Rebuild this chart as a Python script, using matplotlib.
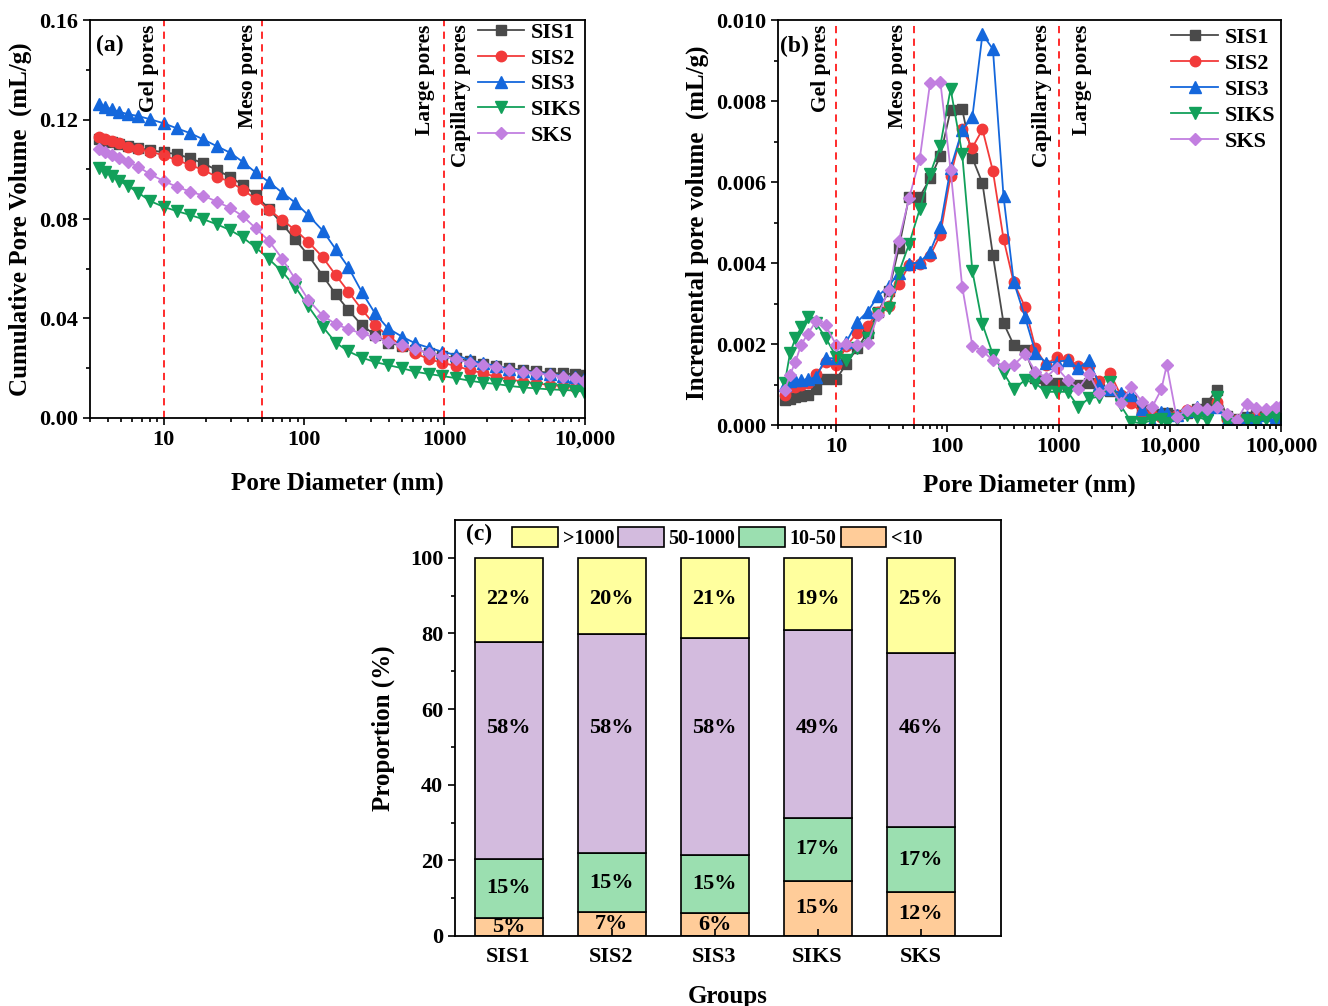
import numpy as np
import matplotlib
matplotlib.use('Agg')
import matplotlib.pyplot as plt
from matplotlib.ticker import FixedLocator, FixedFormatter, MultipleLocator, LogLocator, NullFormatter, FormatStrFormatter
from matplotlib.patches import Patch

plt.rcParams['font.family'] = ['Liberation Serif', 'DejaVu Serif']
plt.rcParams['font.weight'] = 'bold'
plt.rcParams['axes.labelweight'] = 'bold'

# ---------------- data ----------------
samples = ['SIS1', 'SIS2', 'SIS3', 'SIKS', 'SKS']

# (a) cumulative pore volume (mL/g)
diam_a = [3.45, 3.85, 4.3, 4.85, 5.55, 6.6, 8.05, 10.0, 12.4, 15.5, 19.2, 23.9, 29.7, 36.6, 45.3,
          56.5, 70, 86.5, 107, 136, 168, 207, 257, 320, 395, 499, 620, 771, 959, 1210, 1508, 1877,
          2333, 2902, 3611, 4494, 5597, 6966, 8515, 9870]
cum_SIS1 = [0.1120, 0.1115, 0.1110, 0.1100, 0.1093, 0.1085, 0.1077, 0.1068, 0.1061, 0.1044, 0.1024,
            0.0997, 0.0970, 0.0937, 0.0897, 0.0839, 0.0780, 0.0718, 0.0655, 0.0572, 0.0498, 0.0434,
            0.0374, 0.0334, 0.0303, 0.0290, 0.0275, 0.0262, 0.0251, 0.0240, 0.0228, 0.0218, 0.0208,
            0.0200, 0.0193, 0.0187, 0.0182, 0.0179, 0.0176, 0.0173]
cum_SIS2 = [0.1128, 0.1120, 0.1114, 0.1104, 0.1091, 0.1080, 0.1071, 0.1056, 0.1037, 0.1017, 0.0997,
            0.0970, 0.0950, 0.0918, 0.0881, 0.0837, 0.0796, 0.0756, 0.0709, 0.0646, 0.0575, 0.0508,
            0.0437, 0.0374, 0.0330, 0.0290, 0.0260, 0.0237, 0.0222, 0.0209, 0.0193, 0.0180, 0.0166,
            0.0156, 0.0146, 0.0139, 0.0133, 0.0128, 0.0125, 0.0123]
cum_SIS3 = [0.1262, 0.1251, 0.1241, 0.1231, 0.1222, 0.1214, 0.1201, 0.1185, 0.1165, 0.1145, 0.1120,
            0.1093, 0.1067, 0.1030, 0.0987, 0.0948, 0.0906, 0.0866, 0.0816, 0.0753, 0.0679, 0.0606,
            0.0508, 0.0421, 0.0361, 0.0327, 0.0300, 0.0283, 0.0267, 0.0253, 0.0233, 0.0220, 0.0210,
            0.0197, 0.0189, 0.0182, 0.0177, 0.0169, 0.0164, 0.0157]
cum_SIKS = [0.1004, 0.0990, 0.0973, 0.0953, 0.0934, 0.0906, 0.0872, 0.0849, 0.0832, 0.0816, 0.0799,
            0.0779, 0.0756, 0.0726, 0.0686, 0.0638, 0.0588, 0.0528, 0.0450, 0.0367, 0.0303, 0.0268,
            0.0243, 0.0225, 0.0213, 0.0200, 0.0186, 0.0177, 0.0169, 0.0160, 0.0150, 0.0142, 0.0137,
            0.0129, 0.0123, 0.0119, 0.0115, 0.0113, 0.0110, 0.0106]
cum_SKS = [0.1080, 0.1068, 0.1057, 0.1044, 0.1030, 0.1010, 0.0980, 0.0953, 0.0930, 0.0910, 0.0894,
           0.0870, 0.0845, 0.0812, 0.0763, 0.0711, 0.0640, 0.0559, 0.0476, 0.0411, 0.0378, 0.0357,
           0.0340, 0.0324, 0.0307, 0.0293, 0.0276, 0.0262, 0.0249, 0.0236, 0.0222, 0.0213, 0.0204,
           0.0193, 0.0186, 0.0180, 0.0173, 0.0166, 0.0160, 0.0150]

# (b) incremental pore volume (mL/g)
diam_b = [3.45, 3.85, 4.3, 4.85, 5.55, 6.6, 8.05, 10.0, 12.4, 15.5, 19.2, 23.9, 29.7, 36.6, 45.3,
          56.5, 70, 86.5, 107, 136, 168, 207, 257, 320, 395, 499, 620, 771, 959, 1210, 1508, 1877,
          2333, 2902, 3611, 4494, 5597, 6966, 8400, 9400, 11500, 14200, 17500, 21500, 26500, 32500,
          40000, 49000, 60000, 74000, 91000, 100000]
inc_SIS1 = [0.00062, 0.00065, 0.00068, 0.00071, 0.00075, 0.00088, 0.00113, 0.00113, 0.00151, 0.00190,
            0.00228, 0.00280, 0.00330, 0.00436, 0.00564, 0.00564, 0.00609, 0.00664, 0.00778, 0.00780,
            0.00659, 0.00597, 0.00419, 0.00252, 0.00198, 0.00185, 0.00115, 0.00110, 0.00104, 0.00099,
            0.00099, 0.00104, 0.00090, 0.00085, 0.00070, 0.00062, 0.00040, 0.00030, 0.00028, 0.00030,
            0.00025, 0.00030, 0.00040, 0.00055, 0.00086, 0.00022, 0.00015, 0.00020, 0.00025, 0.00030,
            0.00035, 0.00040]
inc_SIS2 = [0.00075, 0.00093, 0.00095, 0.00098, 0.00105, 0.00125, 0.00155, 0.00147, 0.00195, 0.00228,
            0.00245, 0.00280, 0.00295, 0.00348, 0.00395, 0.00398, 0.00418, 0.00470, 0.00615, 0.00730,
            0.00685, 0.00730, 0.00627, 0.00460, 0.00352, 0.00292, 0.00190, 0.00148, 0.00169, 0.00162,
            0.00146, 0.00145, 0.00109, 0.00129, 0.00074, 0.00055, 0.00030, 0.00025, 0.00020, 0.00022,
            0.00025, 0.00037, 0.00029, 0.00029, 0.00058, 0.00016, 0.00012, 0.00015, 0.00020, 0.00025,
            0.00030, 0.00035]
inc_SIS3 = [0.00100, 0.00109, 0.00111, 0.00111, 0.00113, 0.00118, 0.00165, 0.00165, 0.00206, 0.00255,
            0.00280, 0.00319, 0.00343, 0.00376, 0.00398, 0.00402, 0.00428, 0.00490, 0.00634, 0.00728,
            0.00761, 0.00965, 0.00928, 0.00565, 0.00354, 0.00267, 0.00179, 0.00154, 0.00156, 0.00160,
            0.00140, 0.00160, 0.00099, 0.00090, 0.00078, 0.00074, 0.00039, 0.00006, 0.00033, 0.00030,
            0.00025, 0.00035, 0.00045, 0.00040, 0.00045, 0.00010, 0.00005, 0.00020, 0.00015, 0.00025,
            0.00020, 0.00030]
inc_SIKS = [0.00103, 0.00177, 0.00214, 0.00241, 0.00266, 0.00251, 0.00216, 0.00169, 0.00160, 0.00189,
            0.00214, 0.00274, 0.00290, 0.00376, 0.00447, 0.00533, 0.00620, 0.00690, 0.00830, 0.00670,
            0.00380, 0.00249, 0.00174, 0.00129, 0.00088, 0.00111, 0.00103, 0.00082, 0.00082, 0.00082,
            0.00045, 0.00066, 0.00070, 0.00107, 0.00049, 0.00008, 0.00004, 0.00012, 0.00014, 0.00004,
            0.00016, 0.00025, 0.00021, 0.00012, 0.00070, 0.00008, 0.00006, 0.00012, 0.00008, 0.00016,
            0.00021, 0.00025]
inc_SKS = [0.00086, 0.00123, 0.00156, 0.00198, 0.00225, 0.00256, 0.00246, 0.00198, 0.00200, 0.00198,
           0.00202, 0.00272, 0.00333, 0.00455, 0.00560, 0.00657, 0.00845, 0.00848, 0.00630, 0.00342,
           0.00196, 0.00183, 0.00160, 0.00146, 0.00148, 0.00175, 0.00132, 0.00117, 0.00142, 0.00111,
           0.00090, 0.00126, 0.00078, 0.00095, 0.00055, 0.00093, 0.00058, 0.00045, 0.00088, 0.00148,
           0.00020, 0.00037, 0.00041, 0.00040, 0.00045, 0.00027, 0.00012, 0.00053, 0.00041, 0.00039,
           0.00045, 0.00048]

# (c) pore size proportion (%)
groups = ['SIS1', 'SIS2', 'SIS3', 'SIKS', 'SKS']
size_classes = ['<10', '10-50', '50-1000', '>1000']
prop_lt10 = [4.8, 6.3, 6.0, 14.6, 11.5]
prop_10_50 = [15.6, 15.6, 15.4, 16.6, 17.4]
prop_50_1000 = [57.4, 58.0, 57.5, 49.6, 46.0]
prop_gt1000 = [22.2, 20.1, 21.1, 19.2, 25.1]
lab_lt10 = ['5%', '7%', '6%', '15%', '12%']
lab_10_50 = ['15%', '15%', '15%', '17%', '17%']
lab_50_1000 = ['58%', '58%', '58%', '49%', '46%']
lab_gt1000 = ['22%', '20%', '21%', '19%', '25%']

# ---------------- style ----------------
line_colors = ['#4A4A4A', '#F23A3A', '#1467DC', '#12A05A', '#C27FE0']
marker_list = ['s', 'o', '^', 'v', 'D']
marker_sizes = [6.5, 7.5, 8, 8, 6.5]
class_colors = ['#FFCC99', '#9BDFB0', '#D3BBDE', '#FFFF9E']
red_dash = '#FF1A1A'
TICK_FS = 16
LABEL_FS = 18

fig = plt.figure(figsize=(13.28, 10.06), dpi=100)

def style_axis(ax):
    for s in ax.spines.values():
        s.set_linewidth(1.3)
    ax.tick_params(which='both', direction='out', width=1.2, top=False, right=False, labelsize=TICK_FS)
    ax.tick_params(which='major', length=5)
    ax.tick_params(which='minor', length=3)

ann_kw = dict(xycoords=('data', 'axes fraction'), textcoords='offset points', rotation=90,
              va='top', fontsize=15.5)

# ---------------- panel (a) ----------------
ax1 = fig.add_axes([0.0678, 0.5845, 0.3727, 0.3956])
cum_all = [cum_SIS1, cum_SIS2, cum_SIS3, cum_SIKS, cum_SKS]
for name, y, c, m, ms in zip(samples, cum_all, line_colors, marker_list, marker_sizes):
    ax1.plot(diam_a, y, color=c, marker=m, markersize=ms, lw=1.3, label=name)
ax1.set_xscale('log')
ax1.set_xlim(3.0, 10000)
ax1.set_ylim(0, 0.16)
ax1.xaxis.set_major_locator(FixedLocator([10, 100, 1000, 10000]))
ax1.xaxis.set_major_formatter(FixedFormatter(['10', '100', '1000', '10,000']))
ax1.xaxis.set_minor_locator(LogLocator(base=10, subs=np.arange(2, 10)))
ax1.xaxis.set_minor_formatter(NullFormatter())
ax1.yaxis.set_major_locator(MultipleLocator(0.04))
ax1.yaxis.set_minor_locator(MultipleLocator(0.02))
ax1.yaxis.set_major_formatter(FormatStrFormatter('%.2f'))
style_axis(ax1)
ax1.set_xlabel('Pore Diameter (nm)', fontsize=LABEL_FS, labelpad=16)
ax1.set_ylabel('Cumulative Pore Volume  (mL/g)', fontsize=LABEL_FS, labelpad=5)
for xv in [10, 50, 1000]:
    ax1.axvline(xv, color=red_dash, ls=(0, (4, 3)), lw=1.3)
ax1.annotate('Gel pores', xy=(10, 1), xytext=(-3, -3), ha='right', **ann_kw)
ax1.annotate('Meso pores', xy=(50, 1), xytext=(-3, -3), ha='right', **ann_kw)
ax1.annotate('Large pores', xy=(1000, 1), xytext=(-7, -3), ha='right', **ann_kw)
ax1.annotate('Capillary pores', xy=(1000, 1), xytext=(5, -3), ha='left', **ann_kw)
ax1.text(0.013, 0.962, '(a)', transform=ax1.transAxes, fontsize=17, va='top', ha='left')
ax1.legend(loc='upper right', frameon=False, fontsize=16, handlelength=2.1, handletextpad=0.3,
           labelspacing=0.23, borderaxespad=0.2, bbox_to_anchor=(1.02, 1.027))

# ---------------- panel (b) ----------------
ax2 = fig.add_axes([0.5858, 0.5775, 0.3788, 0.4026])
inc_all = [inc_SIS1, inc_SIS2, inc_SIS3, inc_SIKS, inc_SKS]
for name, y, c, m, ms in zip(samples, inc_all, line_colors, marker_list, marker_sizes):
    ax2.plot(diam_b, y, color=c, marker=m, markersize=ms, lw=1.3, label=name)
ax2.set_xscale('log')
ax2.set_xlim(3.0, 100000)
ax2.set_ylim(0, 0.010)
ax2.xaxis.set_major_locator(FixedLocator([10, 100, 1000, 10000, 100000]))
ax2.xaxis.set_major_formatter(FixedFormatter(['10', '100', '1000', '10,000', '100,000']))
ax2.xaxis.set_minor_locator(LogLocator(base=10, subs=np.arange(2, 10)))
ax2.xaxis.set_minor_formatter(NullFormatter())
ax2.yaxis.set_major_locator(MultipleLocator(0.002))
ax2.yaxis.set_minor_locator(MultipleLocator(0.001))
ax2.yaxis.set_major_formatter(FormatStrFormatter('%.3f'))
style_axis(ax2)
ax2.set_xlabel('Pore Diameter (nm)', fontsize=LABEL_FS, labelpad=12)
ax2.set_ylabel('Incremental pore volume  (mL/g)', fontsize=LABEL_FS, labelpad=5)
for xv in [10, 50, 1000]:
    ax2.axvline(xv, color=red_dash, ls=(0, (4, 3)), lw=1.3)
ax2.annotate('Gel pores', xy=(10, 1), xytext=(-4, -3), ha='right', **ann_kw)
ax2.annotate('Meso pores', xy=(50, 1), xytext=(-4, -3), ha='right', **ann_kw)
ax2.annotate('Capillary pores', xy=(1000, 1), xytext=(-5, -3), ha='right', **ann_kw)
ax2.annotate('Large pores', xy=(1000, 1), xytext=(10, -3), ha='left', **ann_kw)
ax2.text(0.005, 0.962, '(b)', transform=ax2.transAxes, fontsize=17, va='top', ha='left')
ax2.legend(loc='upper right', frameon=False, fontsize=16, handlelength=2.1, handletextpad=0.3,
           labelspacing=0.25, borderaxespad=0.2, bbox_to_anchor=(1.015, 1.015))

# ---------------- panel (c) ----------------
ax3 = fig.add_axes([0.3426, 0.0696, 0.4111, 0.4135])
xpos = np.arange(len(groups))
stack_vals = [prop_lt10, prop_10_50, prop_50_1000, prop_gt1000]
stack_labs = [lab_lt10, lab_10_50, lab_50_1000, lab_gt1000]
# label heights: centred in the lower classes, on a common line in the upper two
label_rows = [None, None, 55, 89]
bottom = np.zeros(len(groups))
for vals, labs, col, cname, row in zip(stack_vals, stack_labs, class_colors, size_classes, label_rows):
    vals = np.array(vals)
    ax3.bar(xpos, vals, width=0.66, bottom=bottom, color=col, edgecolor='black',
            linewidth=1.2, label=cname)
    for xi, b, v, t in zip(xpos, bottom, vals, labs):
        ty = b + v / 2 if row is None else row
        ax3.text(xi, ty, t, ha='center', va='center', fontsize=16)
    bottom = bottom + vals
ax3.set_xlim(-0.52, 4.78)
ax3.set_ylim(0, 110)
ax3.set_xticks(xpos)
ax3.set_xticklabels(groups)
ax3.yaxis.set_major_locator(FixedLocator([0, 20, 40, 60, 80, 100]))
ax3.yaxis.set_minor_locator(FixedLocator([10, 30, 50, 70, 90]))
style_axis(ax3)
ax3.tick_params(axis='x', direction='in', length=5, pad=8)
ax3.set_xlabel('Groups', fontsize=LABEL_FS, labelpad=13)
ax3.set_ylabel('Proportion (%)', fontsize=LABEL_FS, labelpad=11)
ax3.text(0.02, 0.99, '(c)', transform=ax3.transAxes, fontsize=17, va='top', ha='left')
leg_handles = [Patch(facecolor=class_colors[i], edgecolor='black', linewidth=1.2) for i in [3, 2, 1, 0]]
leg_labels = [size_classes[i] for i in [3, 2, 1, 0]]
ax3.legend(leg_handles, leg_labels, loc='upper left', bbox_to_anchor=(0.083, 1.012), ncol=4,
           frameon=False, fontsize=14.5, handlelength=2.25, handleheight=1.15, handletextpad=0.25,
           columnspacing=0.2, borderaxespad=0.2)

fig.savefig('out.png', dpi=100)
